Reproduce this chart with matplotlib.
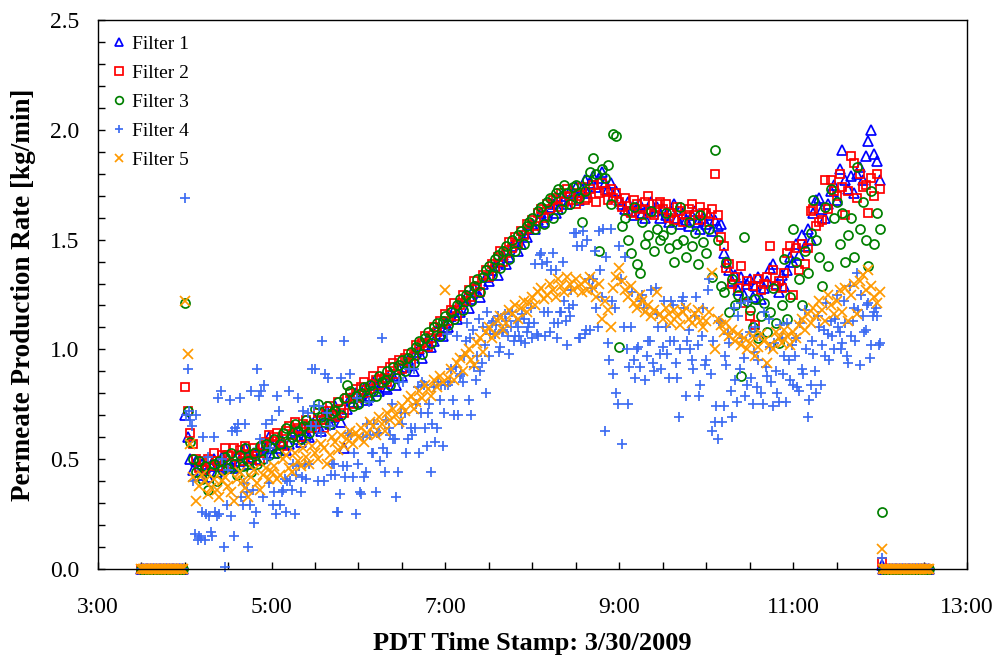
import numpy as np
import matplotlib
matplotlib.use("Agg")
import matplotlib.pyplot as plt
from matplotlib.ticker import MultipleLocator, FixedLocator, FixedFormatter

plt.rcParams['font.family'] = ['Liberation Serif', 'DejaVu Serif']

# ---------------- data ----------------
# time stamps in hours of the day
t_head_start = 3.5            # 3:30 idle (zero flow), 1-min steps to 3:59
t_main_start = 4.0            # 4:00 production starts
t_drop = 12.0 + 1 / 60        # 12:01 shutdown value
t_tail_start = 12.0 + 2 / 60  # 12:02 idle again, 1-min steps
step_main = 2 / 60            # filters 1,2,3,5 read every 2 min
step_f4 = 1 / 60              # filter 4 read every 1 min
step_zero = 1 / 60

zero_head = [0.0, 0.0, 0.0, 0.0, 0.0, 0.0, 0.0, 0.0, 0.0, 0.0,
             0.0, 0.0, 0.0, 0.0, 0.0, 0.0, 0.0, 0.0, 0.0, 0.0,
             0.0, 0.0, 0.0, 0.0, 0.0, 0.0, 0.0, 0.0, 0.0, 0.0]
zero_tail = [0.0, 0.0, 0.0, 0.0, 0.0, 0.0, 0.0, 0.0, 0.0, 0.0, 0.0,
             0.0, 0.0, 0.0, 0.0, 0.0, 0.0, 0.0, 0.0, 0.0, 0.0, 0.0,
             0.0, 0.0, 0.0, 0.0, 0.0, 0.0, 0.0, 0.0, 0.0, 0.0, 0.0]

labels = ['Filter 1', 'Filter 2', 'Filter 3', 'Filter 4', 'Filter 5']
drop_vals = [0.02, 0.03, 0.26, 0.05, 0.09]

filter1 = [
    0.70, 0.60, 0.50, 0.45, 0.49, 0.43, 0.48, 0.46, 0.42, 0.47, 0.50, 0.44, 0.47, 0.51, 0.46,
    0.50, 0.47, 0.46, 0.52, 0.49, 0.53, 0.55, 0.48, 0.51, 0.53, 0.50, 0.56, 0.54, 0.55, 0.60,
    0.56, 0.53, 0.55, 0.60, 0.58, 0.54, 0.57, 0.62, 0.63, 0.59, 0.58, 0.64, 0.61, 0.60, 0.66,
    0.68, 0.64, 0.63, 0.70, 0.72, 0.66, 0.69, 0.74, 0.70, 0.67, 0.55, 0.73, 0.78, 0.76, 0.80,
    0.76, 0.80, 0.82, 0.77, 0.79, 0.85, 0.84, 0.81, 0.87, 0.83, 0.82, 0.89, 0.88, 0.84, 0.91,
    0.88, 0.92, 0.95, 0.93, 0.90, 0.99, 1.00, 0.96, 1.02, 1.05, 1.01, 1.04, 1.09, 1.07, 1.06,
    1.12, 1.10, 1.15, 1.18, 1.14, 1.17, 1.22, 1.24, 1.19, 1.23, 1.28, 1.26, 1.24, 1.30, 1.33,
    1.31, 1.36, 1.38, 1.34, 1.40, 1.43, 1.39, 1.42, 1.47, 1.49, 1.45, 1.48, 1.53, 1.51, 1.55,
    1.57, 1.55, 1.59, 1.62, 1.58, 1.61, 1.65, 1.66, 1.62, 1.64, 1.70, 1.68, 1.66, 1.72, 1.71,
    1.74, 1.68, 1.73, 1.77, 1.71, 1.76, 1.79, 1.74, 1.78, 1.81, 1.76, 1.73, 1.76, 1.70, 1.72,
    1.68, 1.66, 1.64, 1.67, 1.63, 1.61, 1.65, 1.66, 1.62, 1.60, 1.64, 1.67, 1.63, 1.65, 1.60,
    1.64, 1.61, 1.58, 1.63, 1.66, 1.60, 1.57, 1.62, 1.59, 1.56, 1.61, 1.63, 1.58, 1.55, 1.60,
    1.57, 1.61, 1.54, 1.59, 1.56, 1.57, 1.44, 1.40, 1.36, 1.31, 1.34, 1.27, 1.33, 1.25, 1.30,
    1.32, 1.24, 1.29, 1.33, 1.23, 1.28, 1.31, 1.37, 1.39, 1.30, 1.26, 1.34, 1.29, 1.36, 1.42,
    1.40, 1.48, 1.43, 1.52, 1.47, 1.55, 1.50, 1.62, 1.68, 1.69, 1.64, 1.60, 1.66, 1.72, 1.75,
    1.68, 1.82, 1.91, 1.77, 1.73, 1.79, 1.71, 1.80, 1.83, 1.77, 1.88, 1.95, 2.00, 1.89, 1.86,
    1.77,
]

filter2 = [
    0.83, 0.72, 0.62, 0.57, 0.50, 0.46, 0.49, 0.45, 0.50, 0.47, 0.53, 0.49, 0.47, 0.52, 0.55,
    0.52, 0.48, 0.55, 0.51, 0.54, 0.49, 0.56, 0.52, 0.50, 0.55, 0.53, 0.49, 0.56, 0.58, 0.61,
    0.57, 0.60, 0.62, 0.58, 0.56, 0.63, 0.65, 0.61, 0.67, 0.64, 0.60, 0.66, 0.68, 0.65, 0.64,
    0.66, 0.71, 0.68, 0.64, 0.72, 0.74, 0.70, 0.69, 0.76, 0.73, 0.71, 0.78, 0.80, 0.75, 0.82,
    0.78, 0.83, 0.85, 0.80, 0.82, 0.88, 0.86, 0.84, 0.90, 0.87, 0.85, 0.92, 0.94, 0.89, 0.95,
    0.91, 0.96, 0.98, 0.94, 0.97, 1.02, 1.00, 1.03, 1.06, 1.01, 1.05, 1.10, 1.08, 1.13, 1.09,
    1.16, 1.13, 1.18, 1.21, 1.15, 1.20, 1.25, 1.22, 1.27, 1.24, 1.31, 1.29, 1.26, 1.34, 1.36,
    1.33, 1.39, 1.37, 1.42, 1.45, 1.40, 1.44, 1.49, 1.46, 1.51, 1.48, 1.54, 1.52, 1.57, 1.55,
    1.59, 1.56, 1.62, 1.64, 1.60, 1.66, 1.64, 1.68, 1.69, 1.65, 1.71, 1.67, 1.73, 1.70, 1.68,
    1.66, 1.71, 1.74, 1.68, 1.69, 1.73, 1.75, 1.67, 1.71, 1.76, 1.72, 1.68, 1.73, 1.69, 1.71,
    1.67, 1.65, 1.69, 1.63, 1.62, 1.68, 1.66, 1.61, 1.64, 1.67, 1.70, 1.62, 1.61, 1.66, 1.67,
    1.64, 1.66, 1.60, 1.62, 1.59, 1.65, 1.63, 1.58, 1.61, 1.64, 1.66, 1.61, 1.59, 1.65, 1.62,
    1.62, 1.58, 1.64, 1.80, 1.61, 1.51, 1.47, 1.37, 1.39, 1.30, 1.33, 1.28, 1.38, 1.21, 1.31,
    1.15, 1.29, 1.11, 1.32, 1.27, 1.30, 1.33, 1.47, 1.36, 1.29, 1.31, 1.28, 1.35, 1.44, 1.47,
    1.25, 1.46, 1.36, 1.48, 1.39, 1.46, 1.63, 1.64, 1.56, 1.58, 1.59, 1.77, 1.64, 1.77, 1.72,
    1.70, 1.80, 1.74, 1.61, 1.72, 1.88, 1.85, 1.69, 1.80, 1.74, 1.75, 1.62, 1.78, 1.70, 1.80,
    1.73,
]

filter3 = [
    1.21, 0.72, 0.58, 0.50, 0.44, 0.49, 0.41, 0.47, 0.36, 0.44, 0.48, 0.40, 0.49, 0.45, 0.51,
    0.46, 0.53, 0.48, 0.43, 0.52, 0.47, 0.55, 0.49, 0.44, 0.53, 0.48, 0.56, 0.50, 0.57, 0.52,
    0.55, 0.59, 0.53, 0.57, 0.62, 0.64, 0.58, 0.60, 0.66, 0.63, 0.59, 0.65, 0.68, 0.62, 0.66,
    0.73, 0.75, 0.69, 0.67, 0.74, 0.66, 0.71, 0.72, 0.76, 0.70, 0.78, 0.84, 0.81, 0.74, 0.79,
    0.75, 0.80, 0.83, 0.78, 0.84, 0.81, 0.79, 0.88, 0.85, 0.86, 0.90, 0.84, 0.92, 0.87, 0.93,
    0.95, 0.90, 0.96, 0.99, 0.94, 1.01, 1.04, 0.98, 1.05, 1.08, 1.03, 1.10, 1.12, 1.06, 1.13,
    1.15, 1.11, 1.17, 1.14, 1.20, 1.23, 1.18, 1.25, 1.27, 1.22, 1.29, 1.32, 1.26, 1.33, 1.36,
    1.38, 1.34, 1.41, 1.43, 1.37, 1.45, 1.47, 1.41, 1.50, 1.45, 1.52, 1.54, 1.48, 1.56, 1.58,
    1.60, 1.55, 1.63, 1.65, 1.57, 1.67, 1.69, 1.60, 1.71, 1.73, 1.64, 1.75, 1.71, 1.66, 1.74,
    1.75, 1.69, 1.58, 1.72, 1.77, 1.81, 1.87, 1.80, 1.45, 1.82, 1.78, 1.84, 1.66, 1.98, 1.97,
    1.01, 1.56, 1.60, 1.50, 1.44, 1.65, 1.39, 1.35, 1.58, 1.48, 1.52, 1.63, 1.45, 1.55, 1.50,
    1.52, 1.62, 1.46, 1.55, 1.40, 1.48, 1.65, 1.50, 1.42, 1.58, 1.47, 1.53, 1.39, 1.61, 1.49,
    1.44, 1.55, 1.33, 1.91, 1.50, 1.29, 1.26, 1.40, 1.17, 1.32, 1.20, 1.25, 0.88, 1.51, 1.22,
    1.18, 1.10, 1.23, 1.05, 1.15, 1.21, 1.08, 1.17, 1.28, 1.12, 1.03, 1.20, 1.41, 1.14, 1.24,
    1.55, 1.40, 1.32, 1.20, 1.45, 1.35, 1.53, 1.68, 1.50, 1.42, 1.29, 1.65, 1.38, 1.73, 1.60,
    1.67, 1.48, 1.62, 1.40, 1.52, 1.60, 1.42, 1.83, 1.55, 1.67, 1.50, 1.38, 1.72, 1.48, 1.62,
    1.55,
]

filter4 = [
    1.69, 0.70, 0.91, 0.72, 0.68, 0.65, 0.40, 0.16, 0.70, 0.13, 0.15, 0.14, 0.26, 0.60, 0.13,
    0.25, 0.51, 0.24, 0.17, 0.15, 0.60, 0.26, 0.24, 0.78, 0.25, 0.81, 0.50, 0.10, 0.01, 0.29,
    0.45, 0.77, 0.24, 0.63, 0.15, 0.64, 0.63, 0.66, 0.78, 0.33, 0.29, 0.39, 0.66, 0.35, 0.10,
    0.29, 0.81, 0.36, 0.21, 0.26, 0.91, 0.79, 0.59, 0.81, 0.33, 0.84, 0.66, 0.50, 0.39, 0.55,
    0.68, 0.29, 0.35, 0.25, 0.79, 0.72, 0.29, 0.35, 0.36, 0.41, 0.26, 0.40, 0.81, 0.40, 0.36,
    0.48, 0.25, 0.43, 0.78, 0.47, 0.35, 0.42, 0.72, 0.48, 0.41, 0.71, 0.48, 0.65, 0.91, 0.74,
    0.91, 0.65, 0.40, 0.74, 0.62, 1.04, 0.40, 0.89, 0.71, 0.87, 0.65, 0.43, 0.48, 0.48, 0.43,
    0.26, 0.26, 0.34, 0.87, 0.47, 1.04, 0.42, 0.47, 0.62, 0.89, 0.61, 0.42, 0.53, 0.25, 0.78,
    0.48, 0.35, 0.34, 0.60, 0.42, 0.44, 0.66, 0.76, 0.61, 0.53, 0.53, 0.66, 0.35, 0.62, 0.62,
    0.49, 1.05, 0.55, 0.44, 0.68, 0.53, 0.64, 0.61, 0.75, 0.59, 0.59, 0.33, 0.44, 0.85, 0.71,
    0.66, 0.85, 0.71, 0.53, 0.59, 0.91, 0.64, 0.61, 0.91, 0.64, 0.75, 0.83, 0.53, 0.71, 0.85,
    0.84, 0.64, 0.56, 0.71, 0.75, 0.44, 0.66, 0.83, 0.58, 0.64, 0.85, 0.77, 0.84, 0.56, 0.71,
    0.84, 1.07, 0.84, 0.85, 0.91, 0.77, 0.70, 0.92, 1.06, 0.70, 0.88, 0.89, 0.85, 0.97, 1.04,
    1.12, 0.77, 1.05, 0.70, 1.09, 0.92, 0.86, 0.97, 1.14, 0.90, 0.94, 1.10, 1.02, 0.80, 1.17,
    0.97, 1.07, 1.12, 1.13, 1.07, 1.11, 1.15, 0.99, 1.01, 1.08, 1.09, 1.16, 1.13, 1.06, 0.98,
    1.10, 1.17, 1.04, 1.06, 1.13, 1.10, 1.06, 1.04, 1.16, 1.14, 1.03, 1.08, 1.10, 1.12, 1.19,
    1.05, 1.12, 1.39, 1.07, 1.06, 1.43, 1.44, 1.39, 1.17, 1.06, 1.40, 1.17, 1.08, 1.36, 1.44,
    1.12, 1.36, 1.05, 1.12, 1.17, 1.17, 1.40, 1.22, 1.13, 1.02, 1.19, 1.15, 1.27, 1.20, 1.53,
    1.53, 1.47, 1.05, 1.05, 1.47, 1.54, 1.07, 1.09, 1.50, 1.32, 1.09, 1.28, 1.32, 1.45, 1.19,
    1.10, 1.54, 1.36, 1.24, 1.55, 0.63, 1.42, 1.03, 0.95, 1.55, 1.22, 0.89, 1.19, 0.80, 0.75,
    1.47, 1.32, 0.57, 1.10, 1.42, 1.00, 0.75, 0.92, 1.10, 1.26, 0.95, 0.87, 1.00, 1.01, 0.92,
    1.22, 1.25, 1.19, 0.86, 0.97, 1.04, 1.04, 1.27, 0.94, 0.90, 1.28, 1.16, 1.10, 0.98, 0.91,
    1.01, 1.22, 1.10, 0.98, 0.87, 1.04, 1.22, 1.20, 1.04, 0.94, 0.87, 0.69, 1.00, 1.22, 1.24,
    1.19, 0.79, 1.04, 1.09, 1.00, 0.95, 0.91, 1.15, 1.24, 1.02, 0.79, 0.84, 1.06, 1.19, 0.93,
    0.95, 1.27, 1.32, 0.89, 0.63, 1.04, 0.67, 0.74, 0.59, 1.13, 1.12, 0.67, 0.74, 0.97, 0.93,
    1.07, 1.03, 0.81, 0.69, 1.19, 0.86, 0.76, 1.15, 0.91, 1.21, 1.05, 0.96, 0.79, 0.84, 1.22,
    1.08, 0.87, 0.75, 0.99, 1.10, 0.83, 0.95, 1.06, 0.80, 0.75, 1.17, 0.92, 0.88, 1.14, 1.01,
    0.85, 0.74, 1.03, 0.90, 0.80, 0.76, 1.11, 1.05, 0.89, 0.97, 0.76, 1.12, 0.95, 0.86, 1.02,
    0.84, 0.97, 1.05, 0.83, 0.81, 1.12, 0.91, 0.89, 1.18, 1.00, 0.69, 0.77, 0.84, 1.04, 0.98,
    0.90, 0.80, 1.15, 1.10, 0.84, 1.02, 1.09, 0.97, 1.21, 1.07, 0.95, 1.13, 1.06, 1.00, 1.14,
    1.25, 1.10, 1.08, 1.00, 1.03, 1.22, 1.12, 0.97, 0.94, 1.29, 1.06, 1.13, 1.19, 1.04, 1.35,
    1.18, 0.93, 1.25, 1.15, 1.08, 1.09, 1.20, 1.21, 0.96, 1.02, 1.15, 1.17, 1.19, 1.15, 1.02,
    1.03,
]

filter5 = [
    1.22, 0.98, 0.57, 0.42, 0.31, 0.38, 0.43, 0.40, 0.34, 0.37, 0.41, 0.36, 0.33, 0.40, 0.42,
    0.38, 0.35, 0.31, 0.41, 0.44, 0.40, 0.37, 0.33, 0.42, 0.45, 0.39, 0.36, 0.43, 0.46, 0.41,
    0.44, 0.47, 0.41, 0.43, 0.50, 0.52, 0.46, 0.44, 0.53, 0.49, 0.47, 0.55, 0.51, 0.48, 0.56,
    0.53, 0.50, 0.57, 0.55, 0.48, 0.52, 0.60, 0.58, 0.54, 0.61, 0.56, 0.59, 0.63, 0.57, 0.62,
    0.60, 0.64, 0.58, 0.62, 0.67, 0.65, 0.61, 0.69, 0.66, 0.63, 0.71, 0.68, 0.73, 0.70, 0.67,
    0.74, 0.72, 0.77, 0.79, 0.73, 0.76, 0.81, 0.78, 0.84, 0.82, 0.79, 0.86, 0.83, 0.88, 0.85,
    1.27, 0.87, 0.91, 0.86, 0.94, 0.96, 0.90, 0.98, 1.00, 0.95, 0.93, 1.03, 1.05, 0.99, 1.08,
    1.10, 1.05, 1.07, 1.13, 1.15, 1.09, 1.12, 1.18, 1.16, 1.20, 1.14, 1.19, 1.22, 1.17, 1.21,
    1.24, 1.20, 1.26, 1.28, 1.23, 1.25, 1.30, 1.27, 1.24, 1.32, 1.29, 1.26, 1.33, 1.30, 1.27,
    1.32, 1.29, 1.26, 1.31, 1.27, 1.33, 1.28, 1.24, 1.30, 1.14, 1.22, 1.18, 1.10, 1.28, 1.33,
    1.37, 1.31, 1.27, 1.24, 1.29, 1.21, 1.19, 1.25, 1.22, 1.17, 1.20, 1.15, 1.18, 1.26, 1.16,
    1.14, 1.19, 1.16, 1.12, 1.18, 1.15, 1.11, 1.17, 1.19, 1.14, 1.12, 1.16, 1.18, 1.13, 1.10,
    1.13, 1.17, 1.35, 1.00, 1.14, 1.11, 1.08, 1.12, 1.06, 1.09, 1.04, 1.07, 1.02, 1.05, 1.00,
    1.03, 1.06, 0.97, 1.01, 1.07, 1.04, 0.94, 1.02, 1.00, 1.08, 1.05, 1.03, 1.09, 1.06, 1.02,
    1.08, 1.05, 1.11, 1.14, 1.09, 1.16, 1.12, 1.19, 1.15, 1.22, 1.18, 1.13, 1.25, 1.20, 1.16,
    1.22, 1.27, 1.17, 1.28, 1.13, 1.25, 1.30, 1.16, 1.31, 1.34, 1.27, 1.36, 1.29, 1.24, 1.21,
    1.26,
]

x_tick_vals = [3, 5, 7, 9, 11, 13]
x_tick_labels = ['3:00', '5:00', '7:00', '9:00', '11:00', '13:00']

# ---------------- plot ----------------
styles = [
    dict(marker='^', color='#0000FF', ms=6.5),
    dict(marker='s', color='#FF0000', ms=6.1),
    dict(marker='o', color='#008000', ms=6.5),
    dict(marker='+', color='#3D6CF2', ms=7.6),
    dict(marker='x', color='#FF9A00', ms=6.8),
]
series = [filter1, filter2, filter3, filter4, filter5]
steps = [step_main, step_main, step_main, step_f4, step_main]

t_head = t_head_start + step_zero * np.arange(len(zero_head))
t_tail = t_tail_start + step_zero * np.arange(len(zero_tail))

fig = plt.figure(figsize=(10, 6.63), dpi=100)
ax = fig.add_axes([0.0977, 0.1418, 0.8693, 0.828])

for vals, lab, st, dv, stp in zip(series, labels, styles, drop_vals, steps):
    t_main = t_main_start + stp * np.arange(len(vals))
    tt = np.concatenate([t_head, t_main, [t_drop], t_tail])
    yy = np.concatenate([zero_head, vals, [dv], zero_tail])
    ax.plot(tt, yy, linestyle='none', marker=st['marker'], ms=st['ms'],
            mfc='none', mec=st['color'], mew=1.25, label=lab, clip_on=False)

ax.set_xlim(3, 13)
ax.set_ylim(0, 2.5)
ax.xaxis.set_major_locator(FixedLocator(x_tick_vals))
ax.xaxis.set_major_formatter(FixedFormatter(x_tick_labels))
ax.xaxis.set_minor_locator(MultipleLocator(0.5))
ax.yaxis.set_major_locator(MultipleLocator(0.5))
ax.yaxis.set_minor_locator(MultipleLocator(0.1))
ax.yaxis.set_major_formatter(plt.FuncFormatter(lambda v, p: f'{v:.1f}'))

ax.tick_params(axis='both', which='both', direction='in', length=5, width=1,
               top=False, right=False, labelsize=17)
ax.tick_params(axis='x', which='both', pad=20)
ax.tick_params(axis='y', which='both', pad=13)
for sp in ax.spines.values():
    sp.set_linewidth(1.0)

ax.set_xlabel('PDT Time Stamp: 3/30/2009', fontsize=19, fontweight='bold', labelpad=10)
ax.set_ylabel('Permeate Production Rate [kg/min]', fontsize=19.5, fontweight='bold', labelpad=10)

ax.legend(loc='upper left', frameon=False, fontsize=14, handlelength=0.6,
          handletextpad=0.35, labelspacing=0.58, borderaxespad=0.5, borderpad=0.3,
          numpoints=1, markerscale=0.85)

fig.savefig('out.png', dpi=100)
